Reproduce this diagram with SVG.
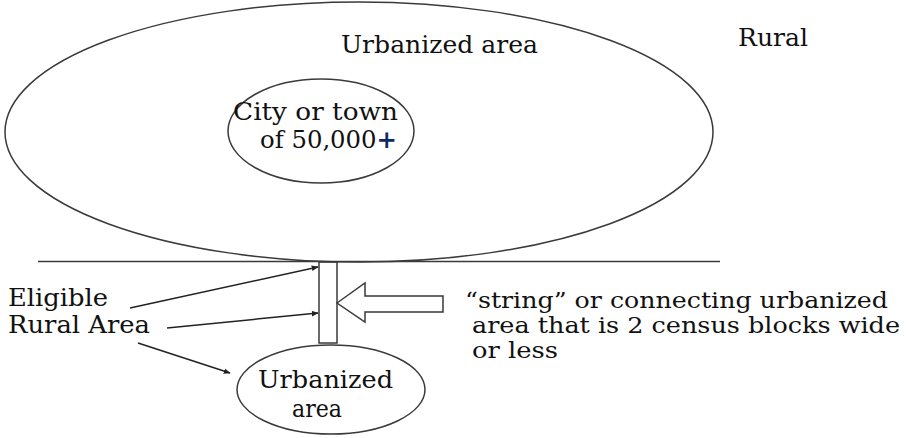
<svg xmlns="http://www.w3.org/2000/svg" width="906" height="438" viewBox="0 0 906 438">
<defs>
<style>
.shape{fill:none;stroke:#3a3a3a;stroke-width:1.5}
.lbl{fill:#111}
.conn{stroke:#222;stroke-width:1.5;fill:none}
</style>
<marker id="ah" viewBox="0 0 10 10" refX="9" refY="5" markerWidth="7" markerHeight="7" markerUnits="userSpaceOnUse" orient="auto">
<path d="M0,1 L10,5 L0,9 Z" fill="#222"/>
</marker>
</defs>
<rect width="906" height="438" fill="#fff"/>
<g font-family="DejaVu Serif, Liberation Serif, serif" font-size="24">
<g id="urbanized-area-big">
<ellipse class="shape" cx="359" cy="132" rx="354" ry="130"/>
<text class="lbl" x="341" y="53" textLength="197" lengthAdjust="spacingAndGlyphs">Urbanized area</text>
</g>
<g id="rural-label">
<text class="lbl" x="738" y="46" textLength="70" lengthAdjust="spacingAndGlyphs">Rural</text>
</g>
<g id="city">
<ellipse class="shape" cx="321" cy="131" rx="93" ry="52"/>
<text class="lbl" x="233" y="120" textLength="165" lengthAdjust="spacingAndGlyphs" font-size="23.5">City or town</text>
<text class="lbl" x="260" y="148" textLength="137" lengthAdjust="spacingAndGlyphs" font-size="23.5">of 50,000<tspan fill="#0b2a66" font-weight="bold">+</tspan></text>
</g>
<g id="boundary">
<line class="shape" x1="38" y1="261.5" x2="720" y2="261.5"/>
</g>
<g id="string">
<rect class="shape" x="319" y="262" width="18" height="81"/>
</g>
<g id="urbanized-area-small">
<ellipse class="shape" cx="331" cy="389.5" rx="94" ry="44.5"/>
<text class="lbl" x="258" y="388" textLength="135" lengthAdjust="spacingAndGlyphs">Urbanized</text>
<text class="lbl" x="292" y="417" textLength="50" lengthAdjust="spacingAndGlyphs">area</text>
</g>
<g id="eligible-rural-area">
<text class="lbl" x="8" y="306" textLength="100" lengthAdjust="spacingAndGlyphs">Eligible</text>
<text class="lbl" x="8" y="333" textLength="142" lengthAdjust="spacingAndGlyphs">Rural Area</text>
</g>
<g id="string-note">
<polygon class="shape" points="337,303 365,283 365,296 443,296 443,312 365,312 365,322"/>
<text class="lbl" x="465" y="308" textLength="423" lengthAdjust="spacingAndGlyphs" font-size="22">“string” or connecting urbanized</text>
<text class="lbl" x="472" y="333" textLength="428" lengthAdjust="spacingAndGlyphs" font-size="22">area that is 2 census blocks wide</text>
<text class="lbl" x="472" y="358" textLength="86" lengthAdjust="spacingAndGlyphs" font-size="22">or less</text>
</g>
</g>
<g id="connectors">
<line class="conn" x1="130" y1="308" x2="318" y2="267" marker-end="url(#ah)"/>
<line class="conn" x1="167" y1="328" x2="318" y2="313" marker-end="url(#ah)"/>
<line class="conn" x1="138" y1="343" x2="230" y2="373" marker-end="url(#ah)"/>
</g>
</svg>
